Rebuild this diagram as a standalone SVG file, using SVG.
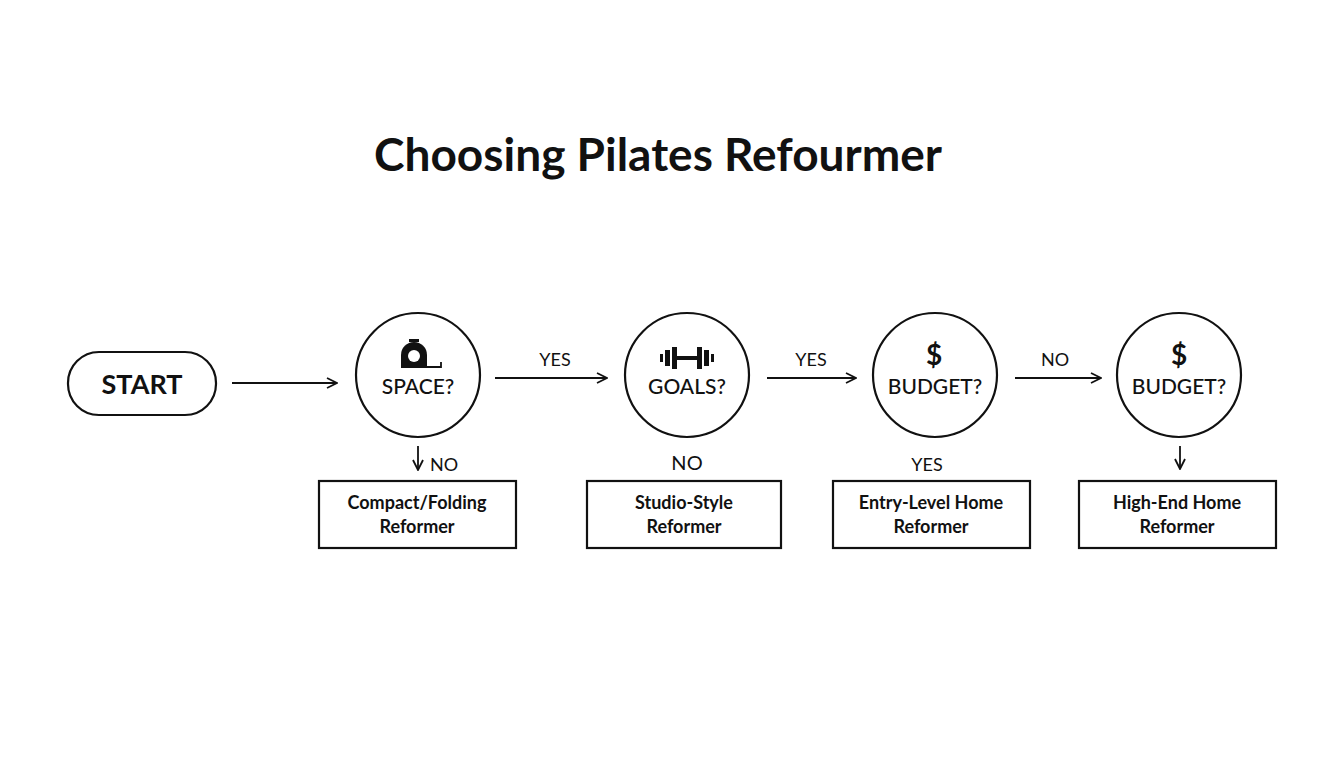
<svg xmlns="http://www.w3.org/2000/svg" width="1344" height="768" viewBox="0 0 1344 768">
<style>
text{font-family:"Lato","Liberation Sans",sans-serif;fill:#111;text-anchor:middle}
.n{fill:#fff;stroke:#111;stroke-width:2.2}
.l{font-size:18px}
.q{font-size:21px;font-weight:500}
.b{font-size:18px;font-weight:bold}
.c{stroke:#111;stroke-width:1.8;fill:none}
</style>
<defs><marker id="a" viewBox="0 0 12 12" refX="11" refY="6" markerWidth="12" markerHeight="12" markerUnits="userSpaceOnUse" orient="auto"><path d="M1,1 L11,6 L1,11" fill="none" stroke="#111" stroke-width="1.8"/></marker></defs>
<rect width="1344" height="768" fill="#fff"/>
<text x="658" y="171" style="font-size:46px;font-weight:bold">Choosing Pilates Refourmer</text>
<g id="start"><rect class="n" x="68" y="352" width="148" height="63" rx="31"/><text x="142" y="394" style="font-size:27px;font-weight:bold">START</text></g>
<g id="space"><circle class="n" cx="418" cy="375" r="62"/>
<circle cx="414" cy="355" r="13" fill="#111"/><rect x="401" y="355" width="26" height="13" fill="#111"/><circle cx="414" cy="356" r="6" fill="#fff"/><rect x="409" y="339" width="10" height="3" fill="#111"/><path d="M427,367 H441 V362" class="c"/>
<text class="q" x="418" y="394">SPACE?</text></g>
<g id="goals"><circle class="n" cx="687" cy="375" r="62"/>
<g fill="#111"><rect x="660" y="354" width="3" height="8"/><rect x="665" y="350" width="5" height="16"/><rect x="672" y="347" width="5" height="22"/><rect x="677" y="356" width="20" height="4"/><rect x="697" y="347" width="5" height="22"/><rect x="704" y="350" width="5" height="16"/><rect x="711" y="354" width="3" height="8"/></g>
<text class="q" x="687" y="394">GOALS?</text></g>
<g id="budget1"><circle class="n" cx="935" cy="375" r="62"/><text x="934" y="365" style="font-size:28px;font-weight:bold">$</text><text class="q" x="935" y="394">BUDGET?</text></g>
<g id="budget2"><circle class="n" cx="1179" cy="375" r="62"/><text x="1179" y="365" style="font-size:28px;font-weight:bold">$</text><text class="q" x="1179" y="394">BUDGET?</text></g>
<g id="r1"><rect class="n" x="319" y="481" width="197" height="67"/><text class="b" x="417" y="509">Compact/Folding</text><text class="b" x="417" y="533">Reformer</text></g>
<g id="r2"><rect class="n" x="587" y="481" width="194" height="67"/><text class="b" x="684" y="509">Studio-Style</text><text class="b" x="684" y="533">Reformer</text></g>
<g id="r3"><rect class="n" x="833" y="481" width="197" height="67"/><text class="b" x="931" y="509">Entry-Level Home</text><text class="b" x="931" y="533">Reformer</text></g>
<g id="r4"><rect class="n" x="1079" y="481" width="197" height="67"/><text class="b" x="1177" y="509">High-End Home</text><text class="b" x="1177" y="533">Reformer</text></g>
<g id="connectors">
<path class="c" d="M232,383 H337" marker-end="url(#a)"/>
<path class="c" d="M495,378 H607" marker-end="url(#a)"/><text class="l" x="555" y="366">YES</text>
<path class="c" d="M767,378 H856" marker-end="url(#a)"/><text class="l" x="811" y="366">YES</text>
<path class="c" d="M1015,378 H1101" marker-end="url(#a)"/><text class="l" x="1055" y="366">NO</text>
<path class="c" d="M418,446 V470" marker-end="url(#a)"/><text class="l" x="444" y="471">NO</text>
<text x="687" y="470" style="font-size:20px">NO</text>
<text class="l" x="927" y="471">YES</text>
<path class="c" d="M1180,446 V469" marker-end="url(#a)"/>
</g>
</svg>
